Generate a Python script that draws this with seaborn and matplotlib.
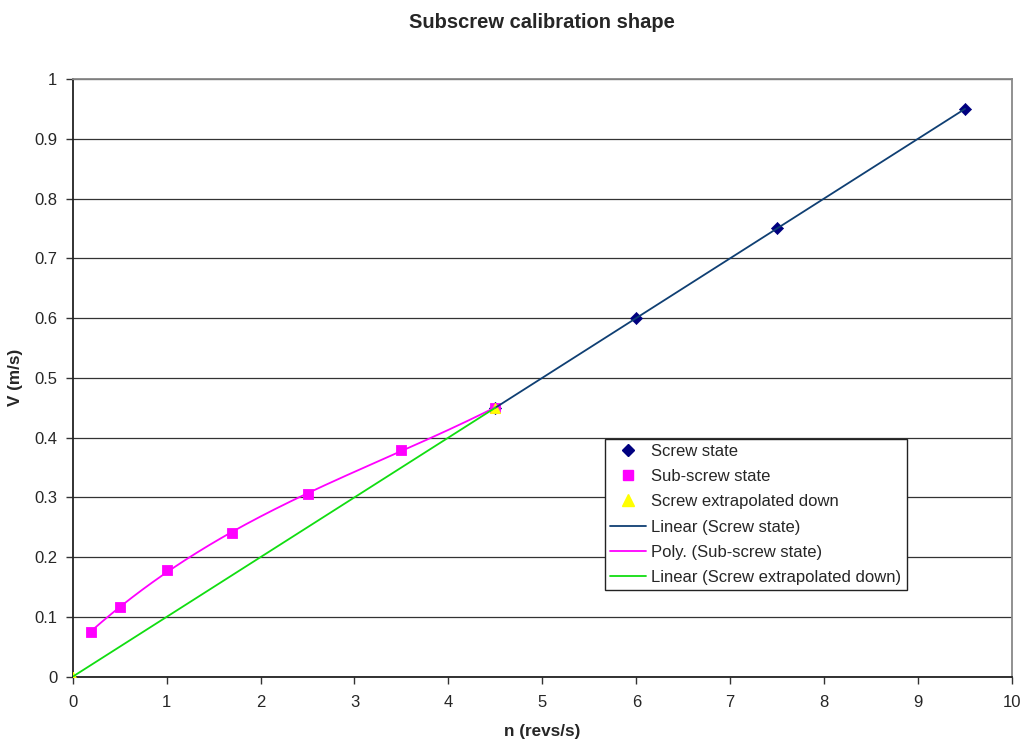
import numpy as np
import pandas as pd
import matplotlib
matplotlib.use("Agg")
import matplotlib.pyplot as plt
from matplotlib.lines import Line2D
import seaborn as sns

# Data
screw_n = [4.5, 6.0, 7.5, 9.5]
screw_v = [0.45, 0.60, 0.75, 0.95]
sub_n = [0.2, 0.5, 1.0, 1.7, 2.5, 3.5, 4.5]
sub_v = [0.075, 0.117, 0.178, 0.240, 0.305, 0.380, 0.450]
ext_n = [0.0, 4.5]
ext_v = [0.0, 0.45]

title = "Subscrew calibration shape"
xlabel = "n (revs/s)"
ylabel = "V (m/s)"

sns.set_style("white")
plt.rcParams['font.family'] = ['Liberation Sans', 'DejaVu Sans']

fig = plt.figure(figsize=(10.25, 7.45), dpi=100)
ax = fig.add_axes([0.0709, 0.0917, 0.9164, 0.8023])

# trendlines (fits of the data)
c1 = np.polyfit(screw_n, screw_v, 1)
x1 = np.linspace(min(screw_n), max(screw_n), 50)
c2 = np.polyfit(sub_n, sub_v, 3)
x2 = np.linspace(min(sub_n), max(sub_n), 200)
c3 = np.polyfit(ext_n, ext_v, 1)
x3 = np.linspace(min(ext_n), max(ext_n), 50)

col_screw_line = "#0f3f73"
col_sub = "#ff00ff"
col_ext_line = "#11dd11"

sns.lineplot(x=x1, y=np.polyval(c1, x1), ax=ax, color=col_screw_line, lw=1.3, zorder=4, sort=False)
sns.lineplot(x=x2, y=np.polyval(c2, x2), ax=ax, color=col_sub, lw=1.3, zorder=4, sort=False)
sns.lineplot(x=x3, y=np.polyval(c3, x3), ax=ax, color=col_ext_line, lw=1.3, zorder=4, sort=False)

sns.scatterplot(x=screw_n, y=screw_v, ax=ax, marker="D", color="#000080", s=38, edgecolor="#000080", zorder=3)
sns.scatterplot(x=sub_n, y=sub_v, ax=ax, marker="s", color=col_sub, s=55, edgecolor=col_sub, zorder=3)
sns.scatterplot(x=ext_n, y=ext_v, ax=ax, marker="^", color="#ffff00", s=55, edgecolor="#ffff00", zorder=3)

ax.set_xlim(0, 10)
ax.set_ylim(0, 1)
ax.set_xticks(np.arange(0, 11, 1))
ax.set_yticks(np.round(np.arange(0, 1.01, 0.1), 1))
ax.set_xticklabels([str(i) for i in range(11)])
ax.set_yticklabels(["0"] + [f"{v:.1f}" for v in np.arange(0.1, 0.95, 0.1)] + ["1"])
ax.tick_params(axis='both', direction='out', length=5, width=1, color='#333333',
               labelsize=12, pad=6, left=True, bottom=True)
ax.tick_params(axis='x', pad=8)
ax.yaxis.grid(True, color='#333333', lw=0.9)
ax.xaxis.grid(False)
ax.set_axisbelow(True)

for s in ['left', 'bottom']:
    ax.spines[s].set_color('#222222')
    ax.spines[s].set_linewidth(1.3)
for s in ['top', 'right']:
    ax.spines[s].set_color('#888888')
    ax.spines[s].set_linewidth(1.3)

ax.set_title(title, fontsize=14.5, fontweight='bold', pad=37)
ax.set_xlabel(xlabel, fontsize=12.3, fontweight='bold', labelpad=10)
ax.set_ylabel(ylabel, fontsize=12.3, fontweight='bold', labelpad=8)

handles = [
    Line2D([], [], ls='none', marker='D', color='#000080', markersize=6),
    Line2D([], [], ls='none', marker='s', color=col_sub, markersize=7),
    Line2D([], [], ls='none', marker='^', color='#ffff00', markersize=8),
    Line2D([], [], color=col_screw_line, lw=1.3),
    Line2D([], [], color=col_sub, lw=1.3),
    Line2D([], [], color=col_ext_line, lw=1.3),
]
labels = ["Screw state", "Sub-screw state", "Screw extrapolated down",
          "Linear (Screw state)", "Poly. (Sub-screw state)",
          "Linear (Screw extrapolated down)"]
leg = ax.legend(handles, labels, loc='upper left', bbox_to_anchor=(0.5665, 0.3984),
                fontsize=12, frameon=True, fancybox=False, edgecolor='#222222',
                framealpha=1, borderpad=0.3, labelspacing=0.62, handlelength=2.2,
                handletextpad=0.3, borderaxespad=0)
leg.get_frame().set_linewidth(1.0)

fig.savefig("out.png", dpi=100)
